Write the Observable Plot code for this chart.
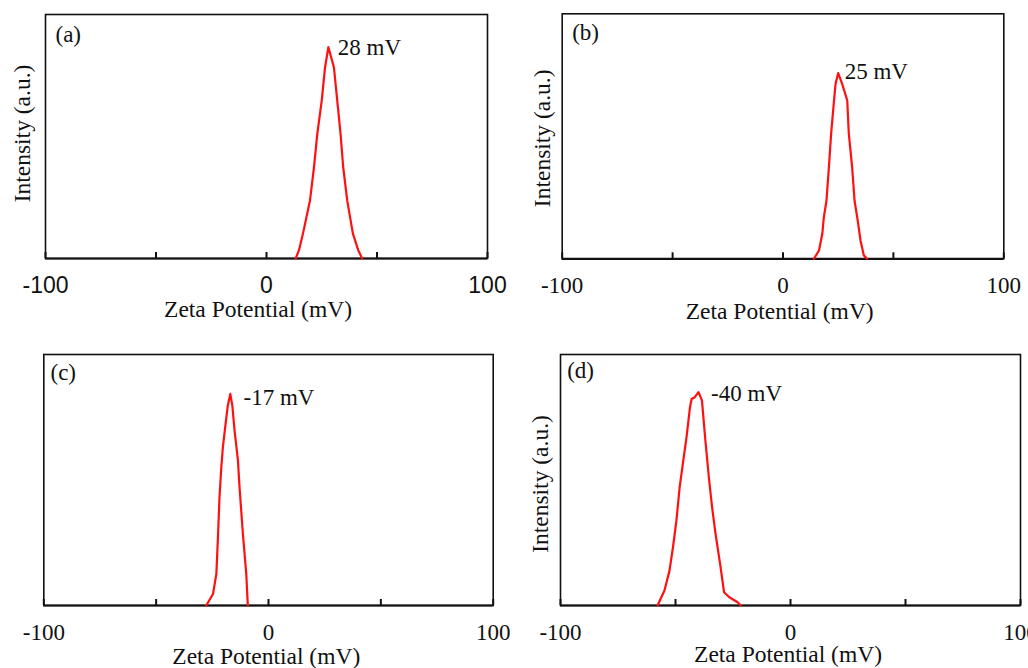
<!DOCTYPE html>
<html>
<head>
<meta charset="utf-8">
<script src="https://cdn.jsdelivr.net/npm/d3@7"></script>
<script src="https://cdn.jsdelivr.net/npm/@observablehq/plot@0.6"></script>
<style>
  body { margin: 0; background: #fff; }
  #fig { position: relative; width: 1028px; height: 668px; overflow: hidden; background: #fff; }
  #fig > svg { position: absolute; overflow: visible; }
</style>
</head>
<body>
<div id="fig"></div>
<script>
// Zeta potential distributions of four samples, (a)–(d)
const panelLetters = ["(a)", "(b)", "(c)", "(d)"];
const zetaLabels = [28, 25, -17, -40];

// (a)
const zetaA      = [13.2, 14.7, 16.5, 19.7, 21.5, 23.0, 25.0, 26.5, 28.0, 30.5, 32.0, 33.5, 34.7, 36.5, 39.1, 41.5, 43.3];
const intensityA = [0, 3.4, 10.2, 23.9, 37.5, 51.2, 64.8, 78.4, 86.6, 78.4, 64.8, 51.2, 37.5, 23.9, 10.2, 3.4, 0];
// (b)
const zetaB      = [14.0, 16.3, 17.8, 18.5, 19.7, 20.8, 21.8, 23.1, 23.8, 25.0, 26.8, 29.1, 29.8, 31.3, 32.4, 33.6, 35.1, 36.6, 38.1];
const intensityB = [0, 3.4, 10.2, 17.0, 23.8, 37.5, 51.1, 64.6, 71.4, 75.8, 71.4, 64.6, 51.1, 37.5, 23.8, 17.0, 7.5, 1.4, 0];
// (c)
const zetaC      = [-27.7, -24.7, -23.2, -22.5, -21.8, -21.0, -20.3, -19.1, -18.1, -17.0, -16.1, -15.1, -13.6, -12.9, -11.4, -9.9, -9.2];
const intensityC = [0, 4.6, 12.6, 27.2, 43.2, 55.1, 63.1, 72.4, 79.7, 84.3, 79.7, 69.7, 57.8, 47.2, 28.6, 12.7, 0];
// (d)
const zetaD      = [-57.8, -54.8, -52.6, -51.1, -49.6, -48.2, -46.6, -45.2, -43.7, -43.0, -41.6, -40.0, -38.5, -37.0, -35.5, -34.1, -32.6, -30.4, -28.9, -26.6, -23.0, -21.6];
const intensityD = [0, 6.0, 13.9, 23.2, 33.9, 47.1, 57.8, 67.1, 79.0, 82.3, 83.0, 85.0, 81.7, 65.7, 51.1, 39.2, 28.6, 15.3, 5.3, 3.3, 1.3, 0];

const zetaSeries = [zetaA, zetaB, zetaC, zetaD];
const intensitySeries = [intensityA, intensityB, intensityC, intensityD];

const tickValues = [-100, -50, 0, 50, 100];
const tickLabelValues = [-100, 0, 100];
const xLabel = "Zeta Potential (mV)";
const yLabel = "Intensity (a.u.)";

const serif = "'Liberation Serif', 'Times New Roman', serif";
const sans = "'Liberation Sans', Arial, sans-serif";

// Placement and text offsets of each panel
const layouts = [
  {left: 0,   top: 0,   width: 510, height: 330, mt: 14,   mr: 23,   mb: 72,   ml: 45,   tickFont: sans,  yLab: true,  yDx: -23, yDy: -3, xDx: -8.5, xDy: 58.7, letDx: 10,  letDy: 11.5, pkDx: 9.4,  pkDy: 0},
  {left: 510, top: 0,   width: 518, height: 330, mt: 13.3, mr: 24.7, mb: 71.7, ml: 51.7, tickFont: serif, yLab: true,  yDx: -20, yDy: 2,  xDx: -3.3, xDy: 60,   letDx: 10,  letDy: 9.7,  pkDx: 6.5,  pkDy: -1.7},
  {left: 0,   top: 330, width: 510, height: 338, mt: 24,   mr: 17.3, mb: 63,   ml: 43.3, tickFont: serif, yLab: false, yDx: -20, yDy: 0,  xDx: -2.2, xDy: 58.3, letDx: 6.7, letDy: 9,    pkDx: 13.2, pkDy: 3.3},
  {left: 510, top: 330, width: 518, height: 338, mt: 24,   mr: 8,    mb: 63,   ml: 50,   tickFont: serif, yLab: true,  yDx: -20, yDy: 4,  xDx: -2.5, xDy: 56.7, letDx: 6.7, letDy: 7.3,  pkDx: 12.6, pkDy: 1.4}
];

const fig = document.getElementById("fig");

layouts.forEach((L, i) => {
  const data = zetaSeries[i].map((z, j) => ({zeta: z, intensity: intensitySeries[i][j]}));
  const peak = data.reduce((a, b) => (b.intensity > a.intensity ? b : a));
  const innerH = L.height - L.mt - L.mb;

  const marks = [
    Plot.frame({stroke: "#111", strokeWidth: 1.6}),
    Plot.ruleY([0], {stroke: "#111", strokeWidth: 2.2}),
    Plot.tickX(tickValues, {x: d => d, stroke: "#111", strokeWidth: 2, insetTop: innerH - 6}),
    Plot.axisX({
      ticks: tickLabelValues, tickSize: 0, tickPadding: 18,
      tickFormat: d => String(d), label: null,
      fontFamily: L.tickFont, fontSize: 23, fill: "#111"
    }),
    Plot.line(data, {x: "zeta", y: "intensity", stroke: "#ff1010", strokeWidth: 2.2}),
    Plot.text([peak], {
      x: "zeta", y: "intensity", text: () => `${zetaLabels[i]} mV`,
      textAnchor: "start", lineAnchor: "middle", dx: L.pkDx, dy: L.pkDy,
      fontFamily: serif, fontSize: 23, fill: "#111"
    }),
    Plot.text([panelLetters[i]], {
      frameAnchor: "top-left", text: d => d, textAnchor: "start", lineAnchor: "top",
      dx: L.letDx, dy: L.letDy, fontFamily: serif, fontSize: 23, fill: "#111"
    }),
    Plot.text([xLabel], {
      frameAnchor: "bottom", text: d => d, textAnchor: "middle", lineAnchor: "bottom",
      dx: L.xDx, dy: L.xDy, fontFamily: serif, fontSize: 23.5, fill: "#111"
    })
  ];
  if (L.yLab) {
    marks.push(Plot.text([yLabel], {
      frameAnchor: "left", text: d => d, textAnchor: "middle", lineAnchor: "middle",
      rotate: -90, dx: L.yDx, dy: L.yDy, fontFamily: serif, fontSize: 23.5, fill: "#111"
    }));
  }

  const svg = Plot.plot({
    width: L.width, height: L.height,
    marginTop: L.mt, marginRight: L.mr, marginBottom: L.mb, marginLeft: L.ml,
    x: {domain: [-100, 100]},
    y: {domain: [0, 100], axis: null},
    style: {background: "transparent", overflow: "visible"},
    marks
  });
  svg.style.left = L.left + "px";
  svg.style.top = L.top + "px";
  fig.appendChild(svg);
});
</script>
</body>
</html>
